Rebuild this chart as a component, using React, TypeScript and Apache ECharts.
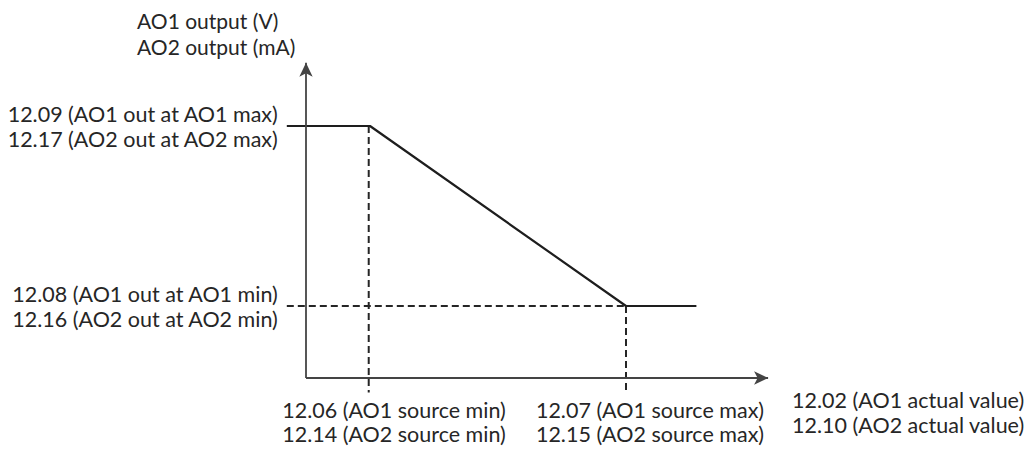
import React, { useEffect, useRef } from "react";
import * as echarts from "echarts";

// Schematic coordinates (abstract units)
const xRange = [-0.3, 7.3];
const yRange = [-0.2, 4.4];
const xAxisEnd = 7.22;
const yAxisEnd = 4.38;
const curveX = [-0.3, 1, 5, 6.1];
const curveY = [3.5, 3.5, 1, 1];
const dashSourceMin = [[0.98, 3.5], [0.98, -0.2]];
const dashOutMin = [[-0.3, 1], [5, 1]];
const dashSourceMax = [[5, 1], [5, -0.2]];

const yTickValues = [1, 3.5];
const yTickLabels = [
  "12.08 (AO1 out at AO1 min)\n12.16 (AO2 out at AO2 min)",
  "12.09 (AO1 out at AO1 max)\n12.17 (AO2 out at AO2 max)",
];
const xTickValues = [1, 5];
const xTickLabels = [
  "12.06 (AO1 source min)\n12.14 (AO2 source min)",
  "12.07 (AO1 source max)\n12.15 (AO2 source max)",
];
const xAxisName = "12.02 (AO1 actual value)\n12.10 (AO2 actual value)";
const yAxisName = "AO1 output (V)\nAO2 output (mA)";

const FONT = "Lato";
const TEXT = "#262626";
const LINE = "#1e1e1e";

export default function App() {
  const ref = useRef<HTMLDivElement>(null);
  useEffect(() => {
    document.body.style.margin = "0";
    const chart = echarts.init(ref.current!, null, { renderer: "svg" });
    const textBase = { fontFamily: FONT, fontSize: 21.5, color: TEXT, lineHeight: 25 };
    const dashed = { color: "#252525", width: 2, type: [7, 4] };
    chart.setOption({
      animation: false,
      backgroundColor: "#ffffff",
      grid: {
        left: 286.8,
        top: 61.2,
        width: 486.4,
        height: 331.2,
        containLabel: false,
        outerBoundsMode: "none",
      },
      xAxis: {
        type: "value",
        min: xRange[0],
        max: xRange[1],
        splitLine: { show: false },
        axisTick: { show: false },
        axisLine: { show: false, onZero: false },
        axisLabel: { show: false },
      },
      yAxis: {
        type: "value",
        min: yRange[0],
        max: yRange[1],
        splitLine: { show: false },
        axisTick: { show: false },
        axisLine: { show: false, onZero: false },
        axisLabel: {
          customValues: yTickValues,
          formatter: (v: number) => yTickLabels[yTickValues.indexOf(v)] ?? "",
          margin: 9,
          align: "right",
          verticalAlign: "middle",
          showMinLabel: true,
          showMaxLabel: true,
          hideOverlap: false,
          ...textBase,
        },
      },
      series: [
        { type: "line", data: dashSourceMin, symbol: "none", lineStyle: dashed, silent: true },
        { type: "line", data: dashOutMin, symbol: "none", lineStyle: dashed, silent: true },
        { type: "line", data: dashSourceMax, symbol: "none", lineStyle: dashed, silent: true },
        {
          type: "line",
          data: curveX.map((x, i) => [x, curveY[i]]),
          symbol: "none",
          lineStyle: { color: LINE, width: 2.2 },
          silent: true,
          markLine: {
            silent: true,
            symbol: ["none", "arrow"],
            symbolSize: [10, 14],
            label: { show: false },
            emphasis: { disabled: true },
            lineStyle: { color: "#444", width: 1.8, type: "solid" },
            data: [
              [{ coord: [0, 0] }, { coord: [xAxisEnd, 0] }],
              [{ coord: [0, 0] }, { coord: [0, yAxisEnd] }],
            ],
          },
        },
      ],
    });

    // Texts placed from the chart's own scales
    const axisY = chart.convertToPixel({ yAxisIndex: 0 }, 0) as number;
    const axisEndX = chart.convertToPixel({ xAxisIndex: 0 }, xAxisEnd) as number;
    const font = `21.5px ${FONT}`;
    const graphics: any[] = xTickValues.map((v, i) => ({
      type: "text",
      x: (chart.convertToPixel({ xAxisIndex: 0 }, v) as number) + 24,
      y: axisY + 20,
      style: {
        text: xTickLabels[i],
        font,
        fill: TEXT,
        lineHeight: 24,
        align: "center",
        verticalAlign: "top",
      },
    }));
    graphics.push({
      type: "text",
      x: axisEndX + 24,
      y: axisY + 9,
      style: { text: xAxisName, font, fill: TEXT, lineHeight: 25, align: "left", verticalAlign: "top" },
    });
    graphics.push({
      type: "text",
      x: 137,
      y: 7,
      style: { text: yAxisName, font: `21px ${FONT}`, fill: TEXT, lineHeight: 26, align: "left", verticalAlign: "top" },
    });
    chart.setOption({ graphic: graphics });
    return () => chart.dispose();
  }, []);
  return <div ref={ref} style={{ width: 1031, height: 457 }} />;
}
